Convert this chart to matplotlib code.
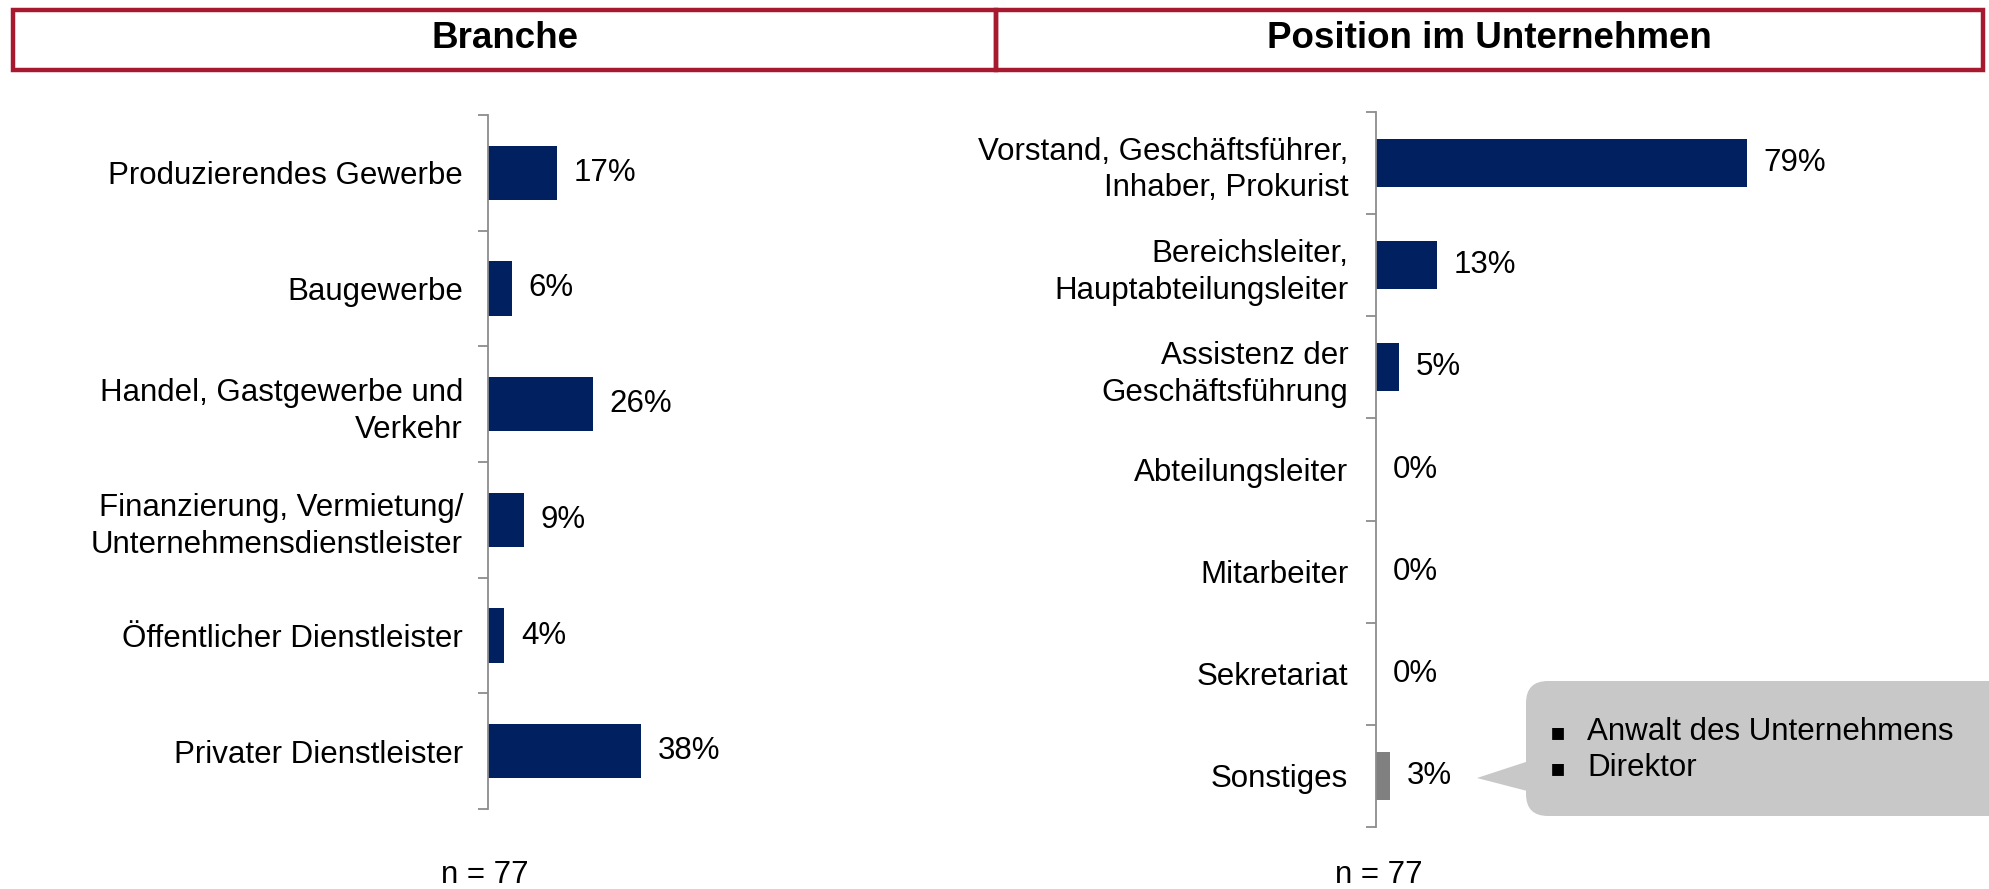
import numpy as np
import matplotlib
matplotlib.use("Agg")
import matplotlib.pyplot as plt
from matplotlib.patches import Rectangle, FancyBboxPatch, Polygon

plt.rcParams["font.family"] = ["Liberation Sans", "DejaVu Sans"]

# data
branche_labels = [
    "Produzierendes Gewerbe",
    "Baugewerbe",
    "Handel, Gastgewerbe und\nVerkehr",
    "Finanzierung, Vermietung/\nUnternehmensdienstleister",
    "Öffentlicher Dienstleister",
    "Privater Dienstleister",
]
branche_values = [17, 6, 26, 9, 4, 38]

position_labels = [
    "Vorstand, Geschäftsführer,\nInhaber, Prokurist",
    "Bereichsleiter,\nHauptabteilungsleiter",
    "Assistenz der\nGeschäftsführung",
    "Abteilungsleiter",
    "Mitarbeiter",
    "Sekretariat",
    "Sonstiges",
]
position_values = [79, 13, 5, 0, 0, 0, 3]

sonstiges_notes = ["Anwalt des Unternehmens", "Direktor"]
n_left = 77
n_right = 77

NAVY = "#002060"
GREY_BAR = "#808080"
AXIS_GREY = "#8C8C8C"
RED = "#A6192E"
FS = 22.5

fig = plt.figure(figsize=(19.89, 8.89), dpi=100)


def bar_panel(rect, labels, values, colors, xmax, pad, bar_h=0.47):
    ax = fig.add_axes(rect)
    y = np.arange(len(labels))
    ax.barh(y, values, height=bar_h, color=colors)
    ax.set_ylim(len(labels) - 0.5, -0.5)
    ax.set_xlim(0, xmax)
    ax.set_yticks(y)
    ax.set_yticklabels(labels, fontsize=FS, ha="right", linespacing=1.3)
    ax.tick_params(axis="y", which="major", length=0, pad=pad)
    ax.set_yticks(np.arange(len(labels) + 1) - 0.5, minor=True)
    ax.tick_params(axis="y", which="minor", length=7, color=AXIS_GREY, width=1.3)
    for s in ["top", "right", "bottom"]:
        ax.spines[s].set_visible(False)
    ax.spines["left"].set_color(AXIS_GREY)
    ax.spines["left"].set_linewidth(1.3)
    ax.set_xticks([])
    for yi, v in zip(y, values):
        ax.annotate(f"{v}%", (v, yi), xytext=(12, 0), textcoords="offset points",
                    va="center", ha="left", fontsize=FS)
    return ax


bar_panel([488 / 1989, 80 / 889, 400 / 1989, 694 / 889],
          branche_labels, branche_values, NAVY, 400 / 4.03, pad=18)

pos_colors = [NAVY] * (len(position_values) - 1) + [GREY_BAR]
bar_panel([1376 / 1989, 62 / 889, 500 / 1989, 715 / 889],
          position_labels, position_values, pos_colors, 500 / 4.69, pad=20)

# header boxes
for x0, x1, title in [(13, 996, "Branche"), (996, 1983, "Position im Unternehmen")]:
    fig.add_artist(Rectangle((x0 / 1989, (889 - 70) / 889), (x1 - x0) / 1989, 60 / 889,
                             fill=False, edgecolor=RED, lw=3.2, transform=fig.transFigure))
    fig.text((x0 + x1) / 2 / 1989, (889 - 39) / 889, title, ha="center", va="center",
             fontsize=26.5, fontweight="bold")

# n labels
fig.text(485 / 1989, 14 / 889, f"n = {n_left}", ha="center", va="center", fontsize=FS)
fig.text(1379 / 1989, 14 / 889, f"n = {n_right}", ha="center", va="center", fontsize=FS)

# callout for Sonstiges
box = FancyBboxPatch((15.26, 0.73), 5.0, 1.35,
                     boxstyle="round,pad=0,rounding_size=0.22",
                     facecolor="#C8C8C8", edgecolor="none",
                     transform=fig.dpi_scale_trans)
fig.add_artist(box)
fig.add_artist(Polygon([(14.77, 1.11), (15.35, 1.30), (15.35, 0.96)], closed=True,
                       facecolor="#C8C8C8", edgecolor="none",
                       transform=fig.dpi_scale_trans))
for i, note in enumerate(sonstiges_notes):
    yy = (889 - 732 - 36 * i) / 100
    fig.text(15.58, yy, "\u25aa", ha="center", va="center", fontsize=17,
             family=["DejaVu Sans"], transform=fig.dpi_scale_trans)
    fig.text(15.87, yy, note, ha="left", va="center", fontsize=FS,
             transform=fig.dpi_scale_trans)

fig.savefig("out.png", dpi=100)
